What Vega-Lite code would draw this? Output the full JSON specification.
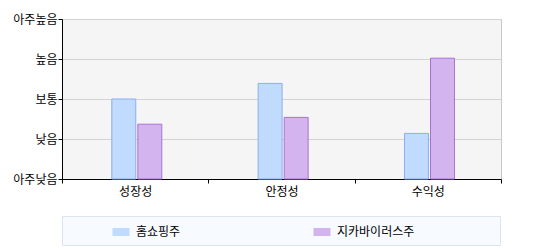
{
  "$schema": "https://vega.github.io/schema/vega-lite/v6.json",
  "width": 439,
  "height": 160,
  "autosize": "none",
  "padding": {"left": 62, "top": 19, "right": 43, "bottom": 71},
  "background": "#ffffff",
  "data": {
    "values": [
      {"category": "성장성", "group": "홈쇼핑주", "value": 2.0},
      {"category": "성장성", "group": "지카바이러스주", "value": 1.37},
      {"category": "안정성", "group": "홈쇼핑주", "value": 2.39},
      {"category": "안정성", "group": "지카바이러스주", "value": 1.54},
      {"category": "수익성", "group": "홈쇼핑주", "value": 1.14},
      {"category": "수익성", "group": "지카바이러스주", "value": 3.02}
    ]
  },
  "mark": {"type": "bar", "strokeWidth": 1, "fillOpacity": 1},
  "encoding": {
    "x": {
      "field": "category",
      "type": "nominal",
      "sort": ["성장성", "안정성", "수익성"],
      "scale": {"paddingInner": 0, "paddingOuter": 0},
      "axis": {
        "title": null,
        "labelAngle": 0,
        "tickBand": "extent",
        "tickSize": 4,
        "tickColor": "#000000",
        "domainColor": "#000000",
        "labelPadding": 3,
        "grid": false
      }
    },
    "xOffset": {
      "field": "group",
      "type": "nominal",
      "sort": ["홈쇼핑주", "지카바이러스주"],
      "scale": {"range": [49.8, 99.8], "paddingInner": 0.08, "paddingOuter": 0}
    },
    "y": {
      "field": "value",
      "type": "quantitative",
      "scale": {"domain": [0, 4], "nice": false},
      "axis": {
        "title": null,
        "values": [0, 1, 2, 3, 4],
        "labelExpr": "['아주낮음','낮음','보통','높음','아주높음'][datum.value]",
        "tickSize": 4,
        "tickColor": "#000000",
        "domainColor": "#000000",
        "labelPadding": 1,
        "grid": true,
        "gridColor": "#d3d3d3",
        "gridWidth": 1
      }
    },
    "fill": {
      "field": "group",
      "type": "nominal",
      "sort": ["홈쇼핑주", "지카바이러스주"],
      "scale": {"range": ["#c0dbfe", "#d4b4ef"]},
      "legend": {
        "title": " ",
        "titleOrient": "right",
        "titlePadding": 79,
        "orient": "none",
        "legendX": 0,
        "legendY": 197,
        "direction": "horizontal",
        "columns": 2,
        "columnPadding": 89,
        "padding": 7,
        "fillColor": "#f7faff",
        "strokeColor": "#dce4ee",
        "symbolType": "M-1,-0.47H1V0.47H-1Z",
        "symbolSize": 289,
        "symbolOffset": 43,
        "symbolStrokeWidth": 1,
        "labelOffset": 6,
        "labelFontSize": 12,
        "labelFont": "Noto Sans CJK KR",
        "labelColor": "#000000"
      }
    },
    "stroke": {
      "field": "group",
      "type": "nominal",
      "sort": ["홈쇼핑주", "지카바이러스주"],
      "scale": {"range": ["#8aaef0", "#a870d6"]},
      "legend": null
    }
  },
  "config": {
    "view": {"fill": "#f5f5f5", "stroke": "#c8c8c8", "strokeWidth": 1},
    "font": "Noto Sans CJK KR",
    "axis": {
      "labelFont": "Noto Sans CJK KR",
      "labelFontSize": 12,
      "labelColor": "#000000"
    }
  }
}
